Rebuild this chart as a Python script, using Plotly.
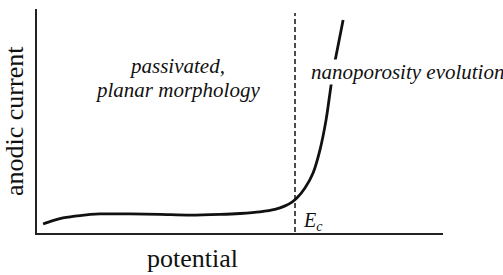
import plotly.graph_objects as go

# curve (arbitrary units, x: potential 0..10, y: current 0..10)
potential = [0.15, 0.37, 0.64, 1.06, 1.55, 2.29, 3.03, 3.77, 4.51, 5.00, 5.49, 5.86,
             6.11, 6.28, 6.40, 6.60, 6.80, 6.97, 7.12, 7.22, 7.29, 7.37, 7.54]
current = [0.40, 0.54, 0.67, 0.78, 0.85, 0.85, 0.83, 0.80, 0.83, 0.87, 0.94, 1.05,
           1.21, 1.38, 1.56, 2.01, 2.68, 3.71, 5.05, 6.30, 7.19, 7.95, 9.51]

e_c = 6.355
e_c_span = [-0.31, 9.82]

label_passive = ["passivated,", "planar morphology"]
label_nano = "nanoporosity evolution"
label_ec = "<i>E<sub>c</sub></i>"
x_title = "potential"
y_title = "anodic current"

W, H = 503, 275
L, R, T, B = 37, 60, 9, 42
pw, ph = W - L - R, H - T - B

def px(xp):
    return (xp - L) / pw

def py(yp):
    return (H - B - yp) / ph

fig = go.Figure()
fig.add_trace(go.Scatter(x=[e_c, e_c], y=e_c_span, mode="lines",
                         line=dict(color="#222", width=1.6, dash="5px,3px"),
                         cliponaxis=False, hoverinfo="skip"))
fig.add_trace(go.Scatter(x=potential, y=current, mode="lines",
                         line=dict(color="#111", width=2.8, shape="spline", smoothing=0.8),
                         cliponaxis=False, hoverinfo="skip"))

serif = "Liberation Serif, Times New Roman, serif"
anns = [
    dict(text="<i>" + label_passive[0] + "</i>", x=px(177), y=py(66), font_size=21),
    dict(text="<i>" + label_passive[1] + "</i>", x=px(177), y=py(90), font_size=21),
    dict(text="<i>" + label_nano + "</i>", x=px(310), y=py(72), font_size=21,
         xanchor="left", bgcolor="white"),
    dict(text=label_ec, x=px(302), y=py(221), font_size=20, xanchor="left"),
    dict(text=x_title, x=px(192), y=py(258), font_size=26),
    dict(text=y_title, x=px(14), y=py(121), font_size=26, textangle=-90),
]
for a in anns:
    fs = a.pop("font_size")
    a.setdefault("xanchor", "center")
    fig.add_annotation(xref="paper", yref="paper", showarrow=False, yanchor="middle",
                       font=dict(family=serif, size=fs, color="#111"), borderpad=0, **a)

fig.update_xaxes(range=[0, 10], showline=True, linecolor="#222", linewidth=2,
                 showgrid=False, zeroline=False, showticklabels=False, ticks="")
fig.update_yaxes(range=[0, 10], showline=True, linecolor="#222", linewidth=2,
                 showgrid=False, zeroline=False, showticklabels=False, ticks="")
fig.update_layout(width=W, height=H, margin=dict(l=L, r=R, t=T, b=B),
                  paper_bgcolor="white", plot_bgcolor="white", showlegend=False)
fig.write_html("out.html")
